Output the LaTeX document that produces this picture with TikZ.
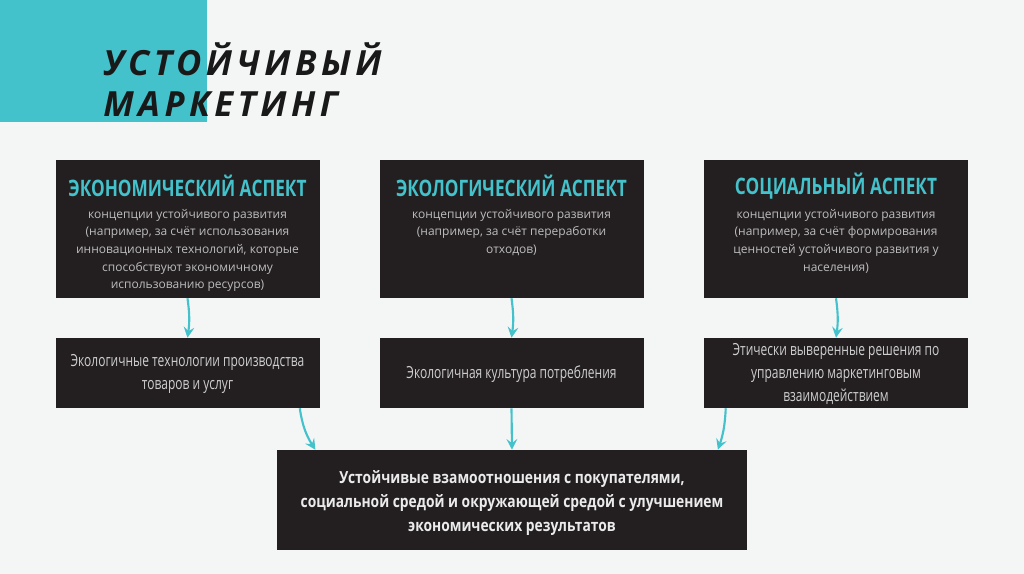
\documentclass[tikz,border=0pt]{standalone}
\usepackage{fontspec}
\setmainfont{Open Sans}
\newfontfamily\titlefont[LetterSpace=13]{Open Sans}
\newfontfamily\headfont[FakeStretch=0.76]{Open Sans}
\newfontfamily\condfont[FakeStretch=0.72]{Open Sans}
\newfontfamily\boldcond[FakeStretch=0.83]{Open Sans}
\usetikzlibrary{arrows.meta}
\definecolor{bg}{HTML}{F4F6F6}
\definecolor{teal}{HTML}{44C2CB}
\definecolor{boxc}{HTML}{231F20}
\definecolor{bodyc}{HTML}{BDBDBD}
\definecolor{midc}{HTML}{CFCFCF}
\tikzset{
  dbox/.style={fill=boxc, draw=none, inner sep=0pt},
  topbox/.style={dbox, minimum width=198pt, minimum height=103.5pt},
  midbox/.style={dbox, minimum width=198pt, minimum height=52.5pt},
  head/.style={text=teal, font=\headfont\bfseries\fontsize{17}{20}\selectfont, inner sep=0pt},
  body/.style={text=bodyc, font=\fontsize{9}{13.2}\selectfont, align=center, inner sep=0pt},
  midtext/.style={text=midc, font=\condfont\fontsize{12.5}{17.2}\selectfont, align=center, inner sep=0pt},
  arr/.style={draw=teal, line width=1.6pt, -{Stealth[length=8pt,width=8pt,inset=3pt]}},
}
\begin{document}
\begin{tikzpicture}[x=0.75pt,y=-0.75pt]
\useasboundingbox (0,0) rectangle (1024,574);
\fill[bg] (0,0) rectangle (1024,574);
\fill[teal] (0,0) rectangle (207,122);
\node[anchor=base west, inner sep=0pt, text=black!90, font=\titlefont\bfseries\itshape\fontsize{26}{30}\selectfont] (t1) at (103,76) {УСТОЙЧИВЫЙ};
\node[anchor=base west, inner sep=0pt, text=black!90, font=\titlefont\bfseries\itshape\fontsize{26}{30}\selectfont] (t2) at (103,117) {МАРКЕТИНГ};

\node[topbox] (b1) at (187.5,229) {};
\node[topbox] (b2) at (511.5,229) {};
\node[topbox] (b3) at (836,229) {};
\node[head] (h1) at (187.5,186) {ЭКОНОМИЧЕСКИЙ АСПЕКТ};
\node[head] (h2) at (511.5,186) {ЭКОЛОГИЧЕСКИЙ АСПЕКТ};
\node[head] (h3) at (836,186) {СОЦИАЛЬНЫЙ АСПЕКТ};
\node[body, anchor=north] (s1) at (187.5,209) {концепции устойчивого развития\\(например, за счёт использования\\инновационных технологий, которые\\способствуют экономичному\\использованию ресурсов)};
\node[body, anchor=north] (s2) at (511.5,209) {концепции устойчивого развития\\(например, за счёт переработки\\отходов)};
\node[body, anchor=north] (s3) at (836,209) {концепции устойчивого развития\\(например, за счёт формирования\\ценностей устойчивого развития у\\населения)};

\node[midbox] (b4) at (187.5,373) {};
\node[midbox] (b5) at (511.5,373) {};
\node[midbox] (b6) at (836,373) {};
\node[midtext] (m4) at (187.5,374) {Экологичные технологии производства\\товаров и услуг};
\node[midtext] (m5) at (511.5,374) {Экологичная культура потребления};
\node[midtext] (m6) at (836,374) {Этически выверенные решения по\\управлению маркетинговым\\взаимодействием};

\node[dbox, minimum width=352.5pt, minimum height=75pt] (b7) at (512,500) {};
\node[text=white!92!black, font=\boldcond\bfseries\fontsize{12.5}{18}\selectfont, align=center, inner sep=0pt] (m7) at (512,503) {Устойчивые взамоотношения с покупателями,\\социальной средой и окружающей средой с улучшением\\экономических результатов};

\draw[arr] (b1.south) to[bend left=8] (b4.north);
\draw[arr] (b2.south) to[bend left=8] (b5.north);
\draw[arr] (b3.south) to[bend left=8] (b6.north);
\draw[arr] ([xshift=-15pt]b4.south east) to[bend right=12] ([xshift=29pt]b7.north west);
\draw[arr] (b5.south) -- (b7.north);
\draw[arr] ([xshift=16.5pt]b6.south west) to[bend left=8] ([xshift=-22pt]b7.north east);
\end{tikzpicture}
\end{document}
